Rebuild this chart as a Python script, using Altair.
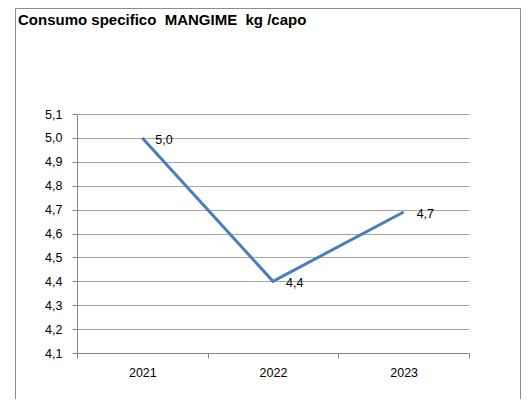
import altair as alt
import pandas as pd

years = ["2021", "2022", "2023"]
values = [5.0, 4.4, 4.69]
y_ticks = [4.1, 4.2, 4.3, 4.4, 4.5, 4.6, 4.7, 4.8, 4.9, 5.0, 5.1]
title_text = "Consumo specifico \u00a0MANGIME \u00a0kg /capo"

df = pd.DataFrame({"year": years, "value": values})
FONT = "Liberation Sans"
FS = 12.5

x_enc = alt.X(
    "year:O",
    bandPosition=0.5,
    scale=alt.Scale(type="band", paddingInner=0, paddingOuter=0),
    axis=alt.Axis(
        title=None, labelAngle=0, tickBand="extent", grid=False,
        domainColor="#868686", tickColor="#868686", tickSize=5,
        labelPadding=8, labelFont=FONT, labelFontSize=FS, labelColor="#000000",
    ),
)
y_enc = alt.Y(
    "value:Q",
    scale=alt.Scale(domain=[4.1, 5.1], nice=False, zero=False),
    axis=alt.Axis(
        title=None, values=y_ticks,
        labelExpr="replace(format(datum.value, '.1f'), '.', ',')",
        gridColor="#a6a6a6", domainColor="#868686", tickColor="#868686",
        tickSize=5, labelPadding=10, labelFont=FONT, labelFontSize=FS,
        labelColor="#000000",
    ),
)

base = alt.Chart(df).encode(x=x_enc, y=y_enc)

line = base.mark_line(color="#4a7ebb", strokeWidth=3)

labels = base.transform_calculate(
    lab="replace(format(datum.value, '.1f'), '.', ',')"
).mark_text(align="left", baseline="middle", dx=13, dy=2, font=FONT,
            fontSize=FS, color="#000000").encode(text="lab:N")

frame = alt.Chart(pd.DataFrame({"a": [0]})).mark_rect(
    fillOpacity=0, stroke="#8c8c8c", strokeWidth=1
).encode(x=alt.value(-61.5), x2=alt.value(443.5), y=alt.value(-105.5), y2=alt.value(400))

chart = alt.layer(frame, line, labels).properties(
    width=392,
    height=239,
    autosize=alt.AutoSizeParams(type="none"),
    padding={"left": 69, "top": 106, "right": 53, "bottom": 46},
    title=alt.TitleParams(
        title_text, anchor="start", frame="group", dx=-59, offset=0, dy=32,
        baseline="alphabetic", font=FONT, fontSize=15, fontWeight="bold",
        color="#000000",
    ),
).configure_view(stroke=None)

chart.save("out.html", embed_options={"renderer": "svg", "actions": False})
